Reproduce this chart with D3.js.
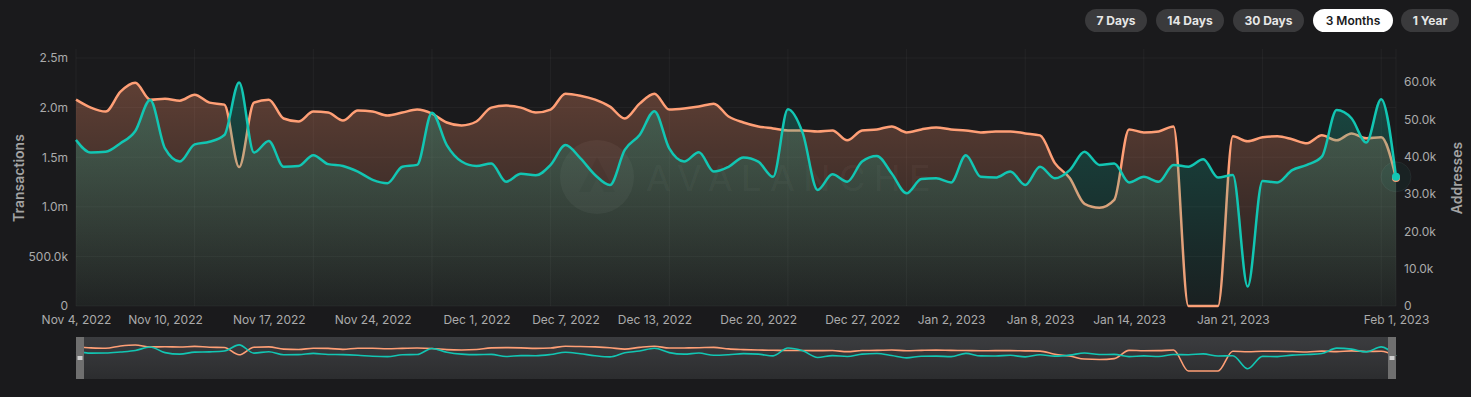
<!DOCTYPE html>
<html><head><meta charset="utf-8">
<script src="https://cdn.jsdelivr.net/npm/d3@7"></script>
<style>
html,body{margin:0;padding:0;background:#1a1a1c;}
svg{display:block;font-family:Inter,"Noto Sans",sans-serif;}
</style></head><body>
<svg id="c" width="1471" height="397"></svg>
<script>
const startDate = "2022-11-04";
const transactions = [2.08,2.00,1.96,2.16,2.25,2.08,2.09,2.07,2.13,2.05,2.03,1.40,2.05,2.08,1.89,1.86,1.96,1.95,1.87,1.97,1.96,1.92,1.95,1.98,1.94,1.85,1.82,1.86,2.00,2.02,
2.00,1.95,1.98,2.14,2.12,2.08,2.01,1.89,2.04,2.14,1.98,1.99,2.01,2.04,1.91,1.85,1.81,1.79,1.77,1.77,1.76,1.77,1.67,1.77,1.78,1.81,1.75,1.78,1.80,1.78,
1.77,1.75,1.76,1.76,1.74,1.72,1.44,1.29,1.03,0.99,1.07,1.78,1.75,1.76,1.81,0,0,0,1.71,1.66,1.70,1.71,1.68,1.64,1.72,1.67,1.74,1.69,1.70,1.29].map(v=>v*1e6);
const addresses = [44.5,41.1,41.3,43.6,46.9,55.2,42.2,38.7,43.3,44.0,45.8,59.9,41.1,44.2,37.3,37.5,40.4,38.0,37.5,36.0,33.8,32.9,37.3,37.8,51.8,43.1,38.7,37.5,38.2,33.3,
35.4,35.0,37.8,43.1,39.6,35.1,32.4,41.8,45.8,52.2,42.2,38.7,41.2,36.0,37.3,39.8,38.7,34.6,52.7,46.3,31.1,35.3,33.3,38.7,40.2,35.5,30.2,34.0,34.2,33.1,
40.4,34.6,34.4,36.0,32.4,37.3,34.2,36.4,41.3,37.8,38.2,33.1,34.6,33.3,37.8,37.3,39.3,34.4,35.1,5.2,33.5,33.1,36.4,37.8,40.0,52.5,50.3,43.8,55.4,34.6].map(v=>v*1e3);
const leftTicks = [0,500000,1000000,1500000,2000000,2500000];
const leftTickLabels = ["0","500.0k","1.0m","1.5m","2.0m","2.5m"];
const rightTicks = [0,10000,20000,30000,40000,50000,60000];
const rightTickLabels = ["0","10.0k","20.0k","30.0k","40.0k","50.0k","60.0k"];
const xTickDates = ["2022-11-04","2022-11-10","2022-11-17","2022-11-24","2022-12-01","2022-12-07","2022-12-13","2022-12-20","2022-12-27","2023-01-02","2023-01-08","2023-01-14","2023-01-21","2023-02-01"];
const rangeButtons = ["7 Days","14 Days","30 Days","3 Months","1 Year"];
const activeButton = "3 Months";

const parse = d3.utcParse("%Y-%m-%d");
const t0 = parse(startDate);
const dates = transactions.map((_,i)=>d3.utcDay.offset(t0,i));
const fmt = d3.utcFormat("%b %-d, %Y");

const svg = d3.select("#c");
const L=76,R=1396,T=49,B=306;
const x = d3.scaleUtc().domain([dates[0],dates[dates.length-1]]).range([L,R]);
const yL = d3.scaleLinear().domain([0,2.5907e6]).range([B,T]);
const yR = d3.scaleLinear().domain([0,68850]).range([B,T]);

const defs = svg.append("defs");
function grad(id,color,a0,a1){
  const g=defs.append("linearGradient").attr("id",id).attr("gradientUnits","userSpaceOnUse")
    .attr("x1",0).attr("x2",0).attr("y1",T).attr("y2",B);
  g.append("stop").attr("offset",0).attr("stop-color",color).attr("stop-opacity",a0);
  g.append("stop").attr("offset",1).attr("stop-color",color).attr("stop-opacity",a1);
}
grad("gO","rgb(255,150,110)",0.34,0.03);
grad("gT","rgb(20,175,150)",0.36,0.04);
const ng=defs.append("linearGradient").attr("id","gN").attr("x1",0).attr("x2",0).attr("y1",0).attr("y2",1);
ng.append("stop").attr("offset",0).attr("stop-color","#3b3c3f");
ng.append("stop").attr("offset",1).attr("stop-color","#2c2d2f");

// grid
const gridDays = d3.range(0,dates.length,8).map(i=>dates[i]);
svg.append("g").selectAll("line").data(gridDays).join("line")
  .attr("x1",d=>x(d)).attr("x2",d=>x(d)).attr("y1",T).attr("y2",B)
  .attr("stroke","rgba(255,255,255,0.045)");
svg.append("line").attr("x1",R).attr("x2",R).attr("y1",T).attr("y2",B).attr("stroke","rgba(255,255,255,0.045)");
svg.append("g").selectAll("line").data(leftTicks).join("line")
  .attr("x1",L).attr("x2",R).attr("y1",d=>yL(d)).attr("y2",d=>yL(d))
  .attr("stroke","rgba(255,255,255,0.045)");

// watermark
const wm = svg.append("g");
wm.append("circle").attr("cx",597).attr("cy",177).attr("r",37).attr("fill","rgba(255,255,255,0.05)");
wm.append("path").attr("d","M597,157 L579,192 L590,192 L597,178 L604,192 L615,192 Z").attr("fill","rgba(0,0,0,0.12)");
wm.append("text").attr("x",646).attr("y",191).attr("font-size",36).attr("letter-spacing",8.5)
  .attr("fill","rgba(255,255,255,0.05)").attr("font-weight",400).text("AVALANCHE");

const curve = d3.curveMonotoneX;
const areaO = d3.area().x((d,i)=>x(dates[i])).y0(B).y1(d=>yL(d)).curve(curve);
const lineO = d3.line().x((d,i)=>x(dates[i])).y(d=>yL(d)).curve(curve);
const areaT = d3.area().x((d,i)=>x(dates[i])).y0(B).y1(d=>yR(d)).curve(curve);
const lineT = d3.line().x((d,i)=>x(dates[i])).y(d=>yR(d)).curve(curve);

svg.append("path").datum(transactions).attr("d",areaO).attr("fill","url(#gO)");
svg.append("path").datum(transactions).attr("d",lineO).attr("fill","none").attr("stroke","#ff9f76").attr("stroke-width",2.5);
svg.append("path").datum(addresses).attr("d",areaT).attr("fill","url(#gT)");
svg.append("path").datum(addresses).attr("d",lineT).attr("fill","none").attr("stroke","#12c6b3").attr("stroke-width",2.5);

// hover markers on last point
const li = dates.length-1;
svg.append("circle").attr("cx",x(dates[li])).attr("cy",yR(addresses[li])).attr("r",15)
  .attr("fill","rgba(18,198,179,0.05)").attr("stroke","rgba(255,255,255,0.05)");
svg.append("circle").attr("cx",x(dates[li])).attr("cy",yL(transactions[li])).attr("r",4).attr("fill","#ff9f76");
svg.append("circle").attr("cx",x(dates[li])).attr("cy",yR(addresses[li])).attr("r",4).attr("fill","#12c6b3");

// axes
const tickCol="#ababab";
const axL = svg.append("g").attr("transform",`translate(68,0)`)
  .call(d3.axisLeft(yL).tickValues(leftTicks).tickFormat((d,i)=>leftTickLabels[i]).tickSize(0).tickPadding(0));
const axR = svg.append("g").attr("transform",`translate(1404,0)`)
  .call(d3.axisRight(yR).tickValues(rightTicks).tickFormat((d,i)=>rightTickLabels[i]).tickSize(0).tickPadding(0));
const axX = svg.append("g").attr("transform",`translate(0,${B+9})`)
  .call(d3.axisBottom(x).tickValues(xTickDates.map(parse)).tickFormat(fmt).tickSize(0).tickPadding(0));
[axL,axR,axX].forEach(a=>{a.select(".domain").remove();
  a.selectAll("text").attr("fill",tickCol).attr("font-size",12).attr("font-family","Inter,sans-serif");});
axX.selectAll("text").attr("dy","0.71em");

svg.append("text").attr("transform","translate(24,178) rotate(-90)").attr("text-anchor","middle")
  .attr("fill","#a3a3a3").attr("font-size",14).attr("font-weight",600).text("Transactions");
svg.append("text").attr("transform","translate(1462,178) rotate(-90)").attr("text-anchor","middle")
  .attr("fill","#a3a3a3").attr("font-size",14).attr("font-weight",600).text("Addresses");

// navigator
const NT=337,NB=379,nY0=371,nY1=341;
svg.append("rect").attr("x",L).attr("y",NT).attr("width",R-L).attr("height",NB-NT).attr("fill","url(#gN)");
const nyL = d3.scaleLinear().domain(yL.domain()).range([nY0,nY1]);
const nyR = d3.scaleLinear().domain(yR.domain()).range([nY0,nY1]);
svg.append("path").datum(transactions).attr("d",d3.line().x((d,i)=>x(dates[i])).y(d=>nyL(d)).curve(curve))
  .attr("fill","none").attr("stroke","#ff9f76").attr("stroke-width",1.6);
svg.append("path").datum(addresses).attr("d",d3.line().x((d,i)=>x(dates[i])).y(d=>nyR(d)).curve(curve))
  .attr("fill","none").attr("stroke","#12c6b3").attr("stroke-width",1.6);
[[L,L+8],[R-8,R]].forEach(([a,b])=>{
  svg.append("rect").attr("x",a).attr("y",NT).attr("width",b-a).attr("height",NB-NT).attr("fill","#6f6f6f");
  svg.append("rect").attr("x",a+1.5).attr("y",356).attr("width",b-a-3).attr("height",4).attr("fill","#cfcfcf");
});

// range buttons
const bw = [62,68,71,80,58];
const bx = [1085,1156,1233,1313,1401];
const bg = svg.append("g").selectAll("g").data(rangeButtons).join("g")
  .attr("transform",(d,i)=>`translate(${bx[i]},9)`);
bg.append("rect").attr("width",(d,i)=>bw[i]).attr("height",23).attr("rx",11.5)
  .attr("fill",d=>d===activeButton?"#ffffff":"#3a3a3c");
bg.append("text").attr("x",(d,i)=>bw[i]/2).attr("y",16).attr("text-anchor","middle")
  .attr("font-size",12).attr("font-weight",d=>d===activeButton?600:700)
  .attr("fill",d=>d===activeButton?"#1a1a1c":"#e6e6e6").text(d=>d);
</script>
</body></html>
